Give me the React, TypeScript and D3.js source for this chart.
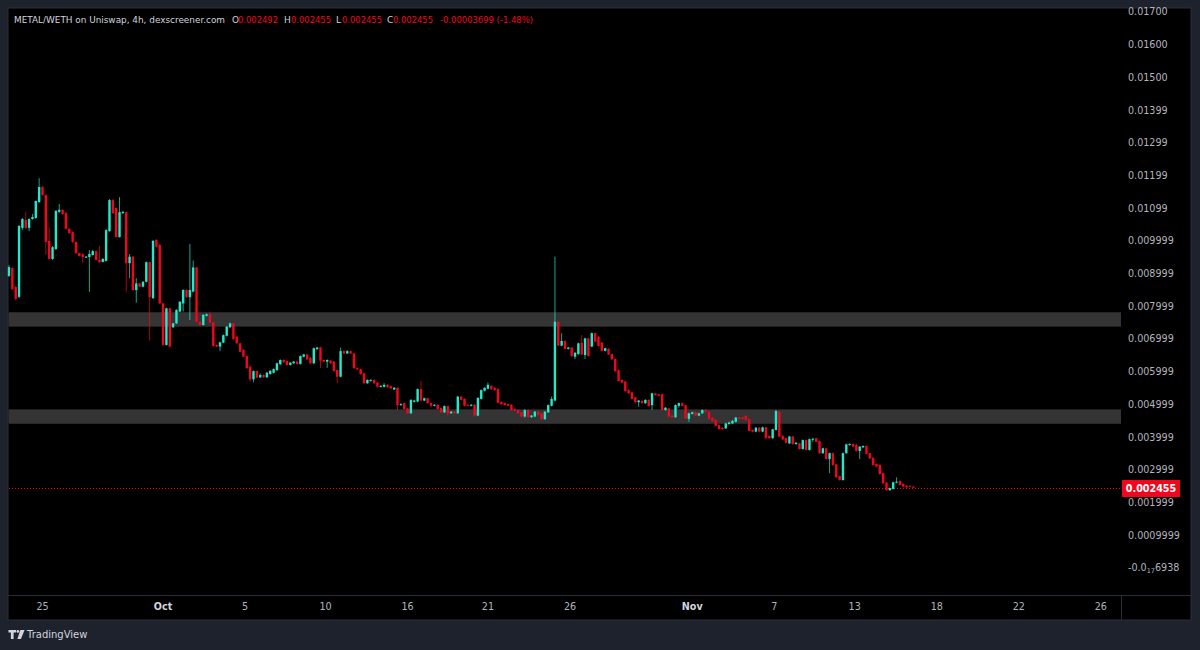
import React from "react";
import * as d3 from "d3";

// ---- DATA (prices in units of 1e-4 WETH) ----
const OHLC: [number, number, number, number][] = [
  [89.3,92.6,89.0,92.0],[91.7,92.0,85.0,85.3],[85.9,86.2,81.9,82.3],[82.9,104.8,82.5,104.6],[104.0,107.0,103.4,106.7],
  [106.4,108.9,103.7,104.0],[104.0,106.9,103.0,106.7],[106.7,108.2,106.5,107.3],[107.0,112.4,106.8,112.2],[111.9,119.2,111.6,116.5],
  [116.5,116.8,113.8,114.0],[114.0,114.3,95.7,99.7],[100.0,104.3,94.2,94.5],[94.5,98.4,94.2,98.1],[97.5,109.4,97.3,109.2],
  [108.9,111.3,108.6,109.5],[109.5,109.7,108.0,108.2],[108.5,108.8,103.4,103.7],[103.7,103.9,102.2,102.4],[102.7,103.0,99.4,99.7],
  [99.7,99.9,96.0,96.3],[96.3,96.5,95.2,95.4],[96.0,96.2,93.3,95.1],[95.0,95.4,94.8,95.2],[95.1,97.2,84.4,96.0],
  [95.7,97.3,95.5,96.9],[96.9,97.1,94.0,94.2],[94.2,98.5,93.3,93.5],[93.6,94.7,93.4,94.5],[93.9,103.6,93.7,103.3],
  [103.0,112.8,102.8,112.5],[112.5,112.8,108.3,108.5],[110.1,110.3,101.0,101.2],[101.2,113.4,101.0,108.8],[108.5,109.1,108.3,108.9],
  [108.8,109.0,84.5,93.2],[93.2,96.0,88.6,95.2],[95.2,95.4,84.8,85.0],[85.0,88.6,81.1,87.0],[87.0,87.2,85.8,86.0],
  [86.0,87.7,85.8,87.5],[87.5,93.7,87.3,93.5],[93.5,93.7,69.5,82.8],[82.5,100.3,82.3,100.0],[100.3,100.6,98.0,98.2],
  [98.8,99.0,80.7,80.9],[80.9,81.2,68.0,68.2],[68.2,79.6,68.0,79.4],[79.4,79.6,67.4,67.7],[73.6,75.0,73.4,74.8],
  [74.8,79.1,74.6,78.9],[78.4,81.6,78.2,81.4],[80.9,85.2,78.4,85.0],[85.0,85.2,82.6,82.8],[82.8,99.1,75.8,85.0],
  [84.5,94.0,84.3,91.9],[91.9,92.1,75.1,75.3],[75.3,75.5,74.1,74.3],[74.3,77.6,74.1,77.4],[77.1,77.8,76.9,77.6],
  [77.6,78.1,74.8,75.0],[75.1,75.3,67.7,67.9],[68.2,68.4,67.5,67.7],[67.7,69.2,66.3,69.0],[68.9,71.4,68.7,71.2],
  [71.0,74.0,70.8,73.8],[73.6,75.0,73.4,74.8],[74.8,75.0,69.8,70.0],[70.7,70.9,68.5,68.7],[68.7,68.9,65.9,66.1],
  [66.7,66.9,64.4,64.6],[64.8,65.0,60.9,61.1],[61.5,62.1,57.0,57.7],[57.7,60.4,56.8,60.2],[60.2,60.4,58.0,58.2],
  [58.3,59.5,58.1,59.0],[59.0,59.2,58.1,58.3],[58.3,59.9,58.1,59.7],[59.3,60.5,59.1,60.3],[59.7,61.0,59.5,60.8],
  [60.5,62.8,60.3,62.6],[62.3,63.8,62.1,63.6],[63.6,63.8,62.7,62.9],[63.3,63.5,61.9,62.1],[62.1,62.9,61.9,62.8],
  [62.6,63.3,62.4,63.1],[63.1,63.3,62.2,62.4],[62.4,65.0,62.2,64.8],[64.6,65.5,64.4,65.3],[65.3,65.5,63.6,63.8],
  [64.3,64.5,62.4,62.6],[62.6,67.4,62.4,67.2],[66.9,67.6,66.7,67.4],[67.4,67.6,61.1,63.4],[63.6,63.8,62.9,63.1],
  [63.1,63.8,61.2,63.6],[63.4,63.6,62.4,62.6],[63.1,63.3,60.0,60.2],[60.5,60.7,56.5,58.5],[58.5,67.4,58.3,66.3],
  [66.3,66.6,65.4,65.6],[65.6,66.6,65.4,66.3],[66.3,66.5,65.4,65.6],[65.6,65.8,60.9,61.1],[61.2,61.4,60.5,60.8],
  [60.8,61.0,59.1,59.3],[59.5,59.7,56.3,56.5],[56.5,57.7,56.3,57.5],[57.2,57.7,57.0,57.5],[57.5,57.7,56.3,56.5],
  [56.7,56.9,55.2,55.4],[55.4,55.9,55.2,55.7],[55.4,56.5,55.2,56.0],[56.0,56.2,55.0,55.3],[55.6,55.8,54.8,54.9],
  [54.6,55.3,54.4,55.1],[55.1,55.3,48.3,49.8],[49.8,50.4,49.6,50.1],[50.4,50.6,48.4,48.6],[48.8,49.0,47.1,47.3],
  [47.3,51.6,47.1,51.4],[50.8,51.4,50.6,51.2],[50.9,54.9,50.7,54.7],[54.7,57.2,50.9,51.2],[51.2,52.1,51.0,51.9],
  [51.9,52.1,50.2,50.4],[50.4,50.6,49.0,49.6],[49.6,50.1,49.4,49.9],[49.9,50.1,48.4,48.6],[48.9,49.1,47.4,47.6],
  [47.6,49.7,47.4,49.5],[49.5,49.7,46.3,47.3],[47.3,48.0,47.1,47.8],[47.8,48.0,47.1,47.3],[47.3,52.6,47.1,52.4],
  [52.4,52.6,51.2,51.4],[51.7,51.9,49.4,49.6],[49.9,50.1,49.4,49.6],[49.6,50.1,49.4,49.9],[49.9,50.1,46.4,46.6],
  [46.6,52.2,46.4,52.0],[51.7,54.6,51.5,54.4],[54.2,55.3,54.0,55.1],[54.8,56.7,54.6,56.0],[55.7,55.9,54.5,54.7],
  [55.1,55.3,54.2,54.4],[54.7,54.9,50.3,50.5],[50.8,51.0,49.9,50.1],[50.4,50.6,49.6,49.8],[50.1,50.3,49.4,49.6],
  [49.9,50.1,48.1,48.3],[48.6,48.8,47.9,48.1],[48.3,48.5,47.1,47.3],[47.6,47.8,46.0,46.3],[46.3,48.5,46.0,48.3],
  [48.3,48.5,45.9,46.1],[46.1,46.8,45.9,46.6],[46.3,48.0,46.1,47.8],[47.8,48.0,46.6,46.8],[47.3,47.5,45.3,45.5],
  [45.5,48.0,45.3,47.8],[47.6,50.0,47.4,49.8],[49.6,52.4,49.4,51.7],[51.2,95.2,51.0,75.3],[75.3,75.5,67.8,68.0],
  [68.0,71.8,67.8,69.4],[69.4,69.6,66.8,67.0],[67.0,67.6,66.8,67.4],[67.4,67.6,64.6,64.8],[64.6,66.0,63.9,65.8],
  [65.4,68.9,65.2,68.7],[68.9,71.2,65.1,65.3],[65.1,70.4,63.9,70.2],[70.2,70.4,64.6,64.8],[67.7,72.0,67.5,71.8],
  [71.8,72.0,69.0,69.2],[70.7,70.9,67.7,67.9],[68.9,69.1,66.2,66.4],[66.4,67.4,66.2,67.2],[67.0,67.2,65.1,65.3],
  [65.4,65.6,63.6,63.8],[63.9,64.1,60.0,60.2],[60.5,60.7,57.0,57.2],[57.5,57.7,56.4,56.7],[57.0,57.2,53.9,54.1],
  [54.4,54.6,53.2,53.4],[53.7,53.9,51.5,51.7],[52.2,52.4,50.4,50.7],[50.7,51.4,49.3,51.2],[51.1,51.3,50.2,50.4],
  [50.4,51.6,50.2,51.4],[51.4,51.6,49.3,49.5],[49.8,53.6,48.3,53.4],[53.4,53.6,52.7,52.9],[53.1,53.3,52.5,52.7],
  [53.1,53.3,48.1,48.3],[48.3,49.2,48.1,49.0],[48.8,49.0,46.0,46.3],[46.6,46.8,45.9,46.1],[46.1,50.0,45.9,49.8],
  [49.6,50.6,49.0,50.4],[50.4,50.6,49.4,49.6],[49.8,50.0,45.6,45.8],[45.6,47.5,44.7,47.3],[47.1,47.8,46.9,47.6],
  [47.6,47.8,46.4,46.6],[46.6,47.5,46.4,47.3],[47.3,48.5,47.1,48.3],[48.3,48.5,47.6,47.8],[47.8,48.0,45.4,45.6],
  [46.0,46.2,44.8,45.0],[45.3,45.5,43.3,43.5],[43.7,43.9,42.3,42.5],[42.9,43.1,42.3,42.5],[42.7,44.4,42.5,44.2],
  [44.0,44.7,43.8,44.5],[44.2,45.2,44.0,45.0],[44.7,46.2,44.5,46.0],[46.0,46.2,45.4,45.6],[46.0,46.2,45.4,45.6],
  [46.5,46.8,45.1,45.3],[45.5,45.7,41.7,41.9],[42.2,42.4,41.5,41.7],[41.7,43.1,41.5,42.9],[42.9,43.1,41.5,41.7],
  [41.7,43.2,41.5,43.0],[43.0,43.2,39.3,39.8],[40.4,40.6,39.4,39.7],[39.7,42.6,39.4,42.4],[42.2,48.3,42.0,48.0],
  [47.8,48.0,39.9,40.2],[40.4,40.6,39.1,39.3],[39.7,39.9,38.1,38.3],[38.1,40.4,37.9,40.2],[40.2,40.4,37.7,37.9],
  [37.9,38.5,37.7,38.3],[38.1,38.3,36.2,36.4],[36.4,39.3,36.2,39.1],[39.1,39.3,35.9,36.1],[36.1,39.6,35.9,39.4],
  [39.3,39.8,38.6,39.5],[39.7,39.9,38.4,38.6],[38.8,39.0,34.9,35.1],[35.1,36.8,34.9,36.6],[36.6,36.8,33.1,33.3],
  [33.3,35.3,29.0,35.1],[35.1,35.3,31.3,31.5],[31.7,31.9,27.5,27.7],[28.1,28.3,26.7,26.9],[26.9,35.3,26.7,35.1],
  [35.1,38.0,34.9,37.8],[37.6,38.1,37.4,37.9],[37.9,38.1,36.9,37.1],[37.6,38.1,35.6,35.8],[35.8,37.3,33.3,37.1],
  [36.9,37.5,36.7,37.3],[37.3,37.5,34.7,34.9],[35.1,35.3,33.3,33.5],[33.7,33.9,31.3,31.5],[31.8,32.0,30.8,31.0],
  [31.5,31.7,28.5,28.7],[29.0,29.2,25.7,25.9],[26.1,26.3,23.6,23.8],[23.8,24.6,23.6,24.4],[24.2,26.4,24.0,26.2],
  [26.1,27.7,25.9,26.4],[26.6,26.8,25.2,25.4],[25.7,25.9,24.7,24.9],[25.2,25.4,24.5,24.7],[25.1,25.3,24.6,24.8],
  [24.92,24.92,24.55,24.55],
];

const Y_TICK_VALUES = [170, 160, 150, 139.99, 129.99, 119.99, 109.99, 99.99, 89.99, 79.99, 69.99, 59.99, 49.99, 39.99, 29.99, 19.99, 9.999, 0];
const Y_TICK_LABELS = ["0.01700", "0.01600", "0.01500", "0.01399", "0.01299", "0.01199", "0.01099", "0.009999", "0.008999", "0.007999", "0.006999", "0.005999", "0.004999", "0.003999", "0.002999", "0.001999", "0.0009999", "-0.0|17|6938"];

const X_TICK_BARS = [10, 46, 70.5, 94.5, 119, 143, 167.5, 204, 228.5, 252.5, 277, 301.5, 326];
const X_TICK_LABELS = ["25", "Oct", "5", "10", "16", "21", "26", "Nov", "7", "13", "18", "22", "26"];
const X_TICK_MAJOR = ["Oct", "Nov"];

const ZONES: [number, number][] = [[73.8, 78.2], [44.1, 48.5]];
const LAST_PRICE = 24.55;
const LAST_PRICE_LABEL = "0.002455";

const HEADER_TITLE = "METAL/WETH on Uniswap, 4h, dexscreener.com";
const HEADER_KEYS = ["O", "H", "L", "C"];
const HEADER_VALUES = ["0.002492", "0.002455", "0.002455", "0.002455"];
const HEADER_CHANGE = "-0.00003699 (-1.48%)";

// ---- STYLE ----
const UP = "#22e9c9";
const DOWN = "#f2061e";
const TEXT = "#b2b5be";
const FONT = "'DejaVu Sans', sans-serif";

export default function App() {
  const W = 1200, H = 650;
  const panel = { l: 8, t: 8, r: 1191, b: 620 };
  const plotR = 1121;
  const axisY = 595;

  const x = d3.scaleLinear().domain([0, 270]).range([9, 913.3]);
  const y = d3.scaleLinear().domain([0, 170]).range([568, 12]);
  const bodyW = 2.4;
  const lastY = Math.round(y(LAST_PRICE)) + 0.5;

  const headerKeyX = [232, 284, 336, 387];
  const headerValX = [238, 291, 342, 393];

  return (
    <svg width={W} height={H} style={{ position: "absolute", left: 0, top: 0 }} fontFamily={FONT}>
      <rect x={0} y={0} width={W} height={H} fill="#1e222d" />
      <rect x={panel.l} y={panel.t} width={panel.r - panel.l} height={panel.b - panel.t} fill="#000" stroke="#2a2e39" strokeWidth={1} />

      {/* zones */}
      {ZONES.map(([lo, hi], i) => (
        <rect key={i} x={panel.l + 0.5} y={y(hi)} width={plotR - panel.l - 0.5} height={y(lo) - y(hi)} fill="#343434" />
      ))}

      {/* last price line */}
      <line x1={panel.l + 1} x2={plotR} y1={lastY} y2={lastY} stroke={DOWN} strokeWidth={1} strokeDasharray="1 2" />

      {/* candles */}
      <g>
        {OHLC.map(([o, h, l, c], i) => {
          const col = c >= o ? UP : DOWN;
          const cx = x(i);
          const top = y(Math.max(o, c));
          const bh = Math.max(1, Math.abs(y(o) - y(c)));
          return (
            <g key={i}>
              <line x1={cx} x2={cx} y1={y(h)} y2={y(l)} stroke={col} strokeOpacity={0.7} strokeWidth={1} />
              <rect x={cx - bodyW / 2} y={top} width={bodyW} height={bh} fill={col} />
            </g>
          );
        })}
      </g>

      {/* y axis labels */}
      {Y_TICK_VALUES.map((v, i) => {
        const lab = Y_TICK_LABELS[i];
        const parts = lab.split("|");
        return (
          <text key={i} x={1128} y={y(v)} dy="0.35em" fontSize={9.6} fill={TEXT}>
            {parts.length === 1 ? lab : (
              <>
                <tspan>{parts[0]}</tspan>
                <tspan fontSize={6.5} dy="1.5">{parts[1]}</tspan>
                <tspan dy="-1.5">{parts[2]}</tspan>
              </>
            )}
          </text>
        );
      })}

      {/* last price tag */}
      <rect x={1122} y={lastY - 8.5} width={58} height={17} fill={DOWN} />
      <text x={1151} y={lastY} dy="0.35em" textAnchor="middle" fontSize={9.6} fontWeight="bold" fill="#fff">{LAST_PRICE_LABEL}</text>

      {/* x axis */}
      <line x1={panel.l} x2={panel.r} y1={axisY + 0.5} y2={axisY + 0.5} stroke="#2a2e39" strokeWidth={1} />
      <line x1={plotR + 0.5} x2={plotR + 0.5} y1={axisY} y2={panel.b} stroke="#2a2e39" strokeWidth={1} />
      {X_TICK_BARS.map((b, i) => {
        const lab = X_TICK_LABELS[i];
        const major = X_TICK_MAJOR.includes(lab);
        return (
          <text key={i} x={x(b)} y={607} dy="0.35em" textAnchor="middle" fontSize={9.6}
            fill={major ? "#d1d4dc" : TEXT} fontWeight={major ? "bold" : "normal"}>{lab}</text>
        );
      })}

      {/* header */}
      <text x={14} y={20} dy="0.35em" fontSize={9} fill="#d1d4dc" textLength={211} lengthAdjust="spacingAndGlyphs">{HEADER_TITLE}</text>
      {HEADER_KEYS.map((k, i) => (
        <g key={k}>
          <text x={headerKeyX[i]} y={20} dy="0.35em" fontSize={9} fill="#d1d4dc">{k}</text>
          <text x={headerValX[i]} y={20} dy="0.35em" fontSize={9} fill={DOWN} textLength={40} lengthAdjust="spacingAndGlyphs">{HEADER_VALUES[i]}</text>
        </g>
      ))}
      <text x={440} y={20} dy="0.35em" fontSize={9} fill={DOWN} textLength={93} lengthAdjust="spacingAndGlyphs">{HEADER_CHANGE}</text>

      {/* TradingView logo */}
      <g fill="#d1d4dc">
        <path d="M8.5 630 H16 V632.6 H13.6 V639 H10.9 V632.6 H8.5 Z" />
        <circle cx={17.9} cy={631.4} r={1.4} />
        <path d="M20.3 630 H24.6 L20.9 639 H17.4 Z" />
      </g>
      <text x={27} y={634.5} dy="0.35em" fontSize={10} fill="#d1d4dc">TradingView</text>
    </svg>
  );
}
